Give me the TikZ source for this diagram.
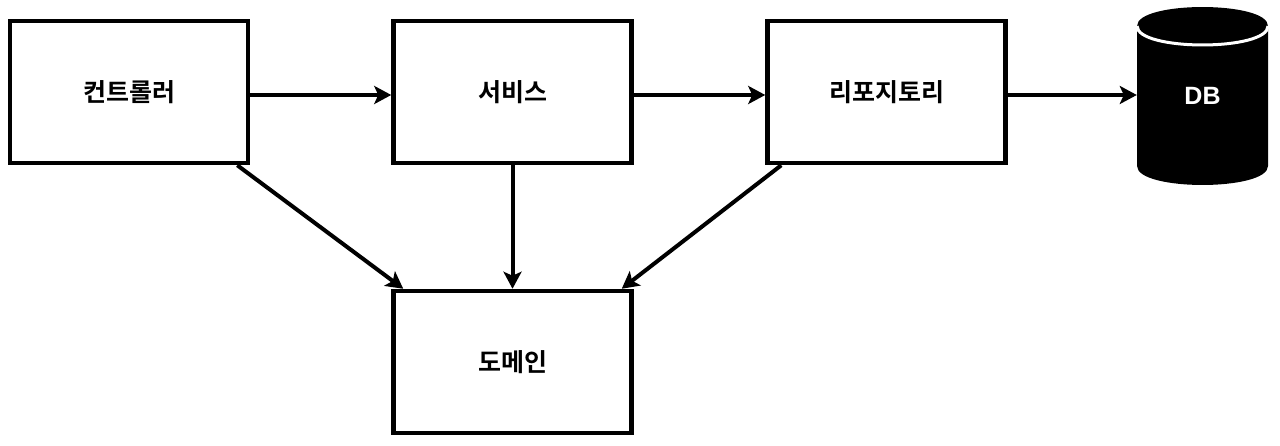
\documentclass[tikz,border=0pt]{standalone}
\usepackage{fontspec}
\usepackage{tikz}
\usetikzlibrary{arrows.meta,calc}
\newfontfamily\cjk{Noto Sans CJK KR Bold}
\newfontfamily\dbfont{Liberation Sans}

\tikzset{
  layer/.style={draw=black, line width=4.5pt, fill=white, minimum width=238pt, minimum height=142pt, font=\cjk\fontsize{25}{30}\selectfont},
  dep/.style={line width=4pt, -{Stealth[length=17pt,width=18pt,inset=4pt]}}
}

\begin{document}
\begin{tikzpicture}[x=1pt,y=-1pt]
\useasboundingbox (0,0) rectangle (1280,446);

\node[layer] (ctrl) at (129,92) {컨트롤러};
\node[layer] (svc) at (512.5,92) {서비스};
\node[layer] (repo) at (886.5,92) {리포지토리};
\node[layer] (dom) at (512.5,362) {도메인};

\fill[black] (1137,26) .. controls (1137,0.7) and (1268,0.7) .. (1268,26) -- (1268,166) .. controls (1268,191.3) and (1137,191.3) .. (1137,166) -- cycle;
\draw[white, line width=3pt] (1137,26) .. controls (1137,51.3) and (1268,51.3) .. (1268,26);
\node[minimum width=131pt, minimum height=178pt, text=white, font=\dbfont\bfseries\fontsize{25}{30}\selectfont] (db) at (1202.5,96) {DB};

\draw[dep] (ctrl.east |- 0,95) -- (svc.west |- 0,95);
\draw[dep] (svc.east |- 0,95) -- (repo.west |- 0,95);
\draw[dep] (repo.east |- 0,95) -- (db.west |- 0,95);

\draw[dep] ($(ctrl.south east)+(-13,0)$) -- ($(dom.north west)+(12,0)$);
\draw[dep] (svc.south) -- (dom.north);
\draw[dep] ($(repo.south west)+(16,0)$) -- ($(dom.north east)+(-12,0)$);

\end{tikzpicture}
\end{document}
